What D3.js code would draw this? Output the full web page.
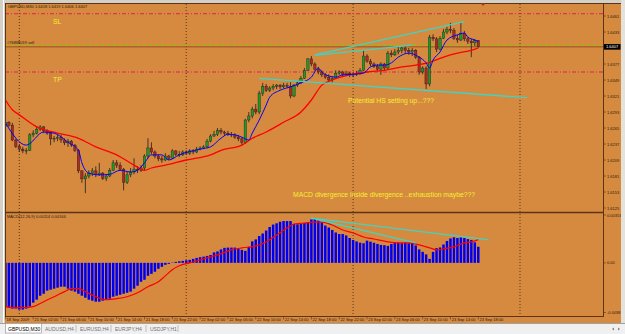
<!DOCTYPE html>
<html>
<head>
<meta charset="utf-8">
<script src="https://cdn.jsdelivr.net/npm/d3@7"></script>
<style>
html, body { margin: 0; padding: 0; background: #d4d0c8; }
svg { display: block; font-family: "Liberation Sans", Arial, sans-serif; }
</style>
</head>
<body>
<script>
// GBPUSD M30 candles, bar 0 = 18 Sep 2009 22:00, bar 4 = 21 Sep 00:00
const open = [1.6268,1.6275,1.6270,1.6244,1.6233,1.6228,1.6225,1.6226,1.6253,1.6256,
  1.6263,1.6267,1.6260,1.6256,1.6246,1.6247,1.6249,1.6244,1.6239,1.6242,
  1.6235,1.6226,1.6190,1.6176,1.6181,1.6186,1.6190,1.6184,1.6186,1.6177,
  1.6181,1.6191,1.6204,1.6200,1.6193,1.6170,1.6183,1.6188,1.6193,1.6191,
  1.6195,1.6216,1.6230,1.6223,1.6216,1.6211,1.6209,1.6216,1.6212,1.6225,
  1.6219,1.6218,1.6223,1.6221,1.6225,1.6223,1.6228,1.6230,1.6232,1.6242,
  1.6251,1.6254,1.6261,1.6258,1.6256,1.6254,1.6253,1.6249,1.6246,1.6240,
  1.6279,1.6286,1.6298,1.6293,1.6326,1.6338,1.6331,1.6335,1.6338,1.6340,
  1.6337,1.6340,1.6338,1.6321,1.6340,1.6344,1.6352,1.6366,1.6386,1.6377,
  1.6368,1.6363,1.6358,1.6354,1.6349,1.6352,1.6361,1.6363,1.6359,1.6361,
  1.6358,1.6359,1.6361,1.6366,1.6391,1.6382,1.6377,1.6373,1.6368,1.6377,
  1.6370,1.6396,1.6393,1.6398,1.6401,1.6405,1.6401,1.6398,1.6401,1.6389,
  1.6363,1.6370,1.6342,1.6424,1.6421,1.6403,1.6422,1.6433,1.6438,1.6436,
  1.6422,1.6419,1.6431,1.6421,1.6417,1.6414,1.6418];
const high = [1.6279,1.6277,1.6274,1.6246,1.6237,1.6232,1.6230,1.6256,1.6261,1.6268,
  1.6270,1.6268,1.6263,1.6258,1.6251,1.6254,1.6253,1.6247,1.6246,1.6244,
  1.6237,1.6228,1.6191,1.6186,1.6191,1.6195,1.6198,1.6204,1.6188,1.6184,
  1.6195,1.6209,1.6209,1.6205,1.6195,1.6188,1.6195,1.6212,1.6198,1.6200,
  1.6219,1.6247,1.6240,1.6226,1.6219,1.6216,1.6221,1.6218,1.6228,1.6226,
  1.6225,1.6226,1.6226,1.6228,1.6228,1.6232,1.6233,1.6235,1.6246,1.6254,
  1.6260,1.6265,1.6265,1.6260,1.6260,1.6258,1.6256,1.6253,1.6249,1.6281,
  1.6293,1.6302,1.6307,1.6330,1.6344,1.6342,1.6338,1.6342,1.6342,1.6342,
  1.6344,1.6344,1.6345,1.6342,1.6347,1.6356,1.6370,1.6387,1.6391,1.6380,
  1.6372,1.6366,1.6361,1.6359,1.6356,1.6366,1.6366,1.6365,1.6365,1.6363,
  1.6363,1.6365,1.6370,1.6401,1.6394,1.6386,1.6380,1.6377,1.6380,1.6379,
  1.6400,1.6401,1.6403,1.6407,1.6408,1.6408,1.6405,1.6405,1.6403,1.6391,
  1.6373,1.6373,1.6428,1.6429,1.6424,1.6426,1.6438,1.6442,1.6449,1.6440,
  1.6428,1.6450,1.6435,1.6424,1.6421,1.6421,1.6419];
const low = [1.6265,1.6267,1.6242,1.6230,1.6223,1.6221,1.6219,1.6225,1.6249,1.6254,
  1.6260,1.6256,1.6253,1.6235,1.6240,1.6242,1.6239,1.6235,1.6232,1.6232,
  1.6223,1.6186,1.6169,1.6151,1.6177,1.6181,1.6179,1.6181,1.6174,1.6172,
  1.6179,1.6190,1.6195,1.6190,1.6156,1.6167,1.6179,1.6184,1.6186,1.6188,
  1.6191,1.6212,1.6219,1.6212,1.6207,1.6204,1.6207,1.6209,1.6211,1.6216,
  1.6214,1.6216,1.6218,1.6218,1.6219,1.6221,1.6226,1.6228,1.6230,1.6240,
  1.6249,1.6251,1.6254,1.6251,1.6251,1.6249,1.6246,1.6242,1.6235,1.6237,
  1.6275,1.6282,1.6289,1.6289,1.6321,1.6328,1.6328,1.6331,1.6333,1.6333,
  1.6335,1.6335,1.6317,1.6319,1.6337,1.6342,1.6351,1.6365,1.6373,1.6365,
  1.6359,1.6354,1.6351,1.6347,1.6345,1.6351,1.6358,1.6356,1.6356,1.6354,
  1.6354,1.6356,1.6358,1.6365,1.6379,1.6373,1.6370,1.6365,1.6358,1.6366,
  1.6368,1.6389,1.6391,1.6394,1.6396,1.6396,1.6393,1.6391,1.6386,1.6358,
  1.6359,1.6333,1.6338,1.6417,1.6398,1.6401,1.6421,1.6429,1.6431,1.6419,
  1.6414,1.6417,1.6417,1.6412,1.6389,1.6408,1.6406];
const close = [1.6275,1.6270,1.6244,1.6233,1.6228,1.6225,1.6226,1.6253,1.6256,1.6263,
  1.6267,1.6260,1.6256,1.6246,1.6247,1.6249,1.6244,1.6239,1.6242,1.6235,
  1.6226,1.6190,1.6176,1.6181,1.6186,1.6190,1.6184,1.6186,1.6177,1.6181,
  1.6191,1.6204,1.6200,1.6193,1.6170,1.6183,1.6188,1.6193,1.6191,1.6195,
  1.6216,1.6230,1.6223,1.6216,1.6211,1.6209,1.6216,1.6212,1.6225,1.6219,
  1.6218,1.6223,1.6221,1.6225,1.6223,1.6228,1.6230,1.6232,1.6242,1.6251,
  1.6254,1.6261,1.6258,1.6256,1.6254,1.6253,1.6249,1.6246,1.6240,1.6279,
  1.6286,1.6298,1.6293,1.6326,1.6338,1.6331,1.6335,1.6338,1.6340,1.6337,
  1.6340,1.6338,1.6321,1.6340,1.6344,1.6352,1.6366,1.6386,1.6377,1.6368,
  1.6363,1.6358,1.6354,1.6349,1.6352,1.6361,1.6363,1.6359,1.6361,1.6358,
  1.6359,1.6361,1.6366,1.6391,1.6382,1.6377,1.6373,1.6368,1.6377,1.6370,
  1.6396,1.6393,1.6398,1.6401,1.6405,1.6401,1.6398,1.6401,1.6389,1.6363,
  1.6370,1.6342,1.6424,1.6421,1.6403,1.6422,1.6433,1.6438,1.6436,1.6422,
  1.6419,1.6431,1.6421,1.6417,1.6414,1.6418,1.6407];

// moving averages: [bar, price]
const maFast = [[0,1.6274],[6,1.6235],[11,1.6258],[14,1.6256],[18,1.6240],[21,1.6226],[22,1.6204],
  [24,1.6186],[27,1.6183],[30,1.6184],[33,1.6191],[36,1.6188],[38,1.6191],[40,1.6204],[42,1.6218],
  [45,1.6218],[47,1.6209],[50,1.6218],[56,1.6228],[59,1.6232],[62,1.6247],[64,1.6254],[66,1.6253],
  [68,1.6249],[70,1.6244],[71,1.6256],[73,1.6279],[75,1.6305],[76,1.6319],[79,1.6331],[82,1.6337],
  [85,1.6344],[88,1.6354],[90,1.6370],[91,1.6363],[93,1.6356],[95,1.6354],[97,1.6358],[100,1.6359],
  [103,1.6361],[105,1.6372],[107,1.6375],[109,1.6375],[111,1.6379],[113,1.6389],[116,1.6396],
  [119,1.6389],[121,1.6379],[122,1.6370],[123,1.6384],[125,1.6398],[127,1.6419],[130,1.6428],
  [132,1.6431],[133,1.6424],[135,1.6419],[136,1.6416]];
const maSlow = [[0,1.6314],[2,1.6297],[4,1.6288],[9,1.6267],[15,1.6256],[21,1.6247],[26,1.6232],
  [32,1.6218],[37,1.6200],[40,1.6191],[42,1.6195],[46,1.6200],[52,1.6209],[59,1.6218],[62,1.6226],
  [68,1.6235],[71,1.6247],[75,1.6258],[80,1.6275],[85,1.6293],[88,1.6314],[91,1.6340],[94,1.6349],
  [99,1.6358],[104,1.6363],[109,1.6366],[114,1.6372],[118,1.6375],[122,1.6380],[126,1.6389],
  [130,1.6396],[134,1.6401],[136,1.6405]];

// MACD(12,26,9) histogram per bar and signal line [bar, value]
const macd = [-0.00310,-0.00317,-0.00324,-0.00324,-0.00331,-0.00331,-0.00324,-0.00310,-0.00282,-0.00261,
  -0.00233,-0.00219,-0.00197,-0.00190,-0.00183,-0.00176,-0.00169,-0.00169,-0.00183,-0.00197,
  -0.00204,-0.00219,-0.00233,-0.00247,-0.00261,-0.00268,-0.00275,-0.00275,-0.00268,-0.00261,
  -0.00254,-0.00240,-0.00233,-0.00226,-0.00219,-0.00212,-0.00204,-0.00183,-0.00162,-0.00134,
  -0.00120,-0.00092,-0.00078,-0.00063,-0.00042,-0.00028,-0.00014,-0.00007,0.00002,0.00007,
  0.00011,0.00014,0.00018,0.00021,0.00028,0.00035,0.00040,0.00044,0.00049,0.00056,
  0.00074,0.00081,0.00095,0.00106,0.00108,0.00108,0.00108,0.00102,0.00092,0.00085,
  0.00113,0.00152,0.00166,0.00190,0.00208,0.00229,0.00254,0.00271,0.00280,0.00291,
  0.00296,0.00296,0.00296,0.00275,0.00273,0.00275,0.00282,0.00286,0.00307,0.00314,
  0.00300,0.00286,0.00264,0.00250,0.00233,0.00215,0.00204,0.00204,0.00194,0.00176,
  0.00162,0.00152,0.00143,0.00139,0.00157,0.00150,0.00142,0.00134,0.00127,0.00125,
  0.00120,0.00134,0.00141,0.00143,0.00139,0.00143,0.00139,0.00143,0.00123,0.00095,
  0.00078,0.00060,0.00028,0.00078,0.00104,0.00109,0.00130,0.00155,0.00173,0.00181,
  0.00176,0.00180,0.00176,0.00168,0.00162,0.00145,0.00114];
const signal = [[0,-0.00310],[2,-0.00317],[5,-0.00317],[8,-0.00310],[11,-0.00275],[14,-0.00240],
  [17,-0.00204],[19,-0.00183],[21,-0.00183],[23,-0.00204],[26,-0.00240],[29,-0.00261],[32,-0.00254],
  [35,-0.00240],[38,-0.00212],[41,-0.00169],[44,-0.00134],[46,-0.00092],[48,-0.00049],[50,-0.00021],
  [53,0.00000],[56,0.00021],[59,0.00042],[61,0.00056],[65,0.00092],[68,0.00106],[72,0.00120],
  [75,0.00148],[78,0.00197],[81,0.00247],[83,0.00275],[86,0.00282],[89,0.00289],[91,0.00289],
  [94,0.00268],[97,0.00233],[100,0.00212],[103,0.00183],[106,0.00169],[110,0.00148],[113,0.00141],
  [116,0.00141],[119,0.00127],[122,0.00106],[124,0.00092],[126,0.00099],[129,0.00113],[132,0.00141],
  [134,0.00148],[136,0.00164]];

// axes
const priceTicks = [1.6461,1.6433,1.6377,1.6349,1.6321,1.6293,1.6265,1.6237,1.6209,1.6181,1.6153,1.6125];
const macdTicks = [[0.00353,'0.00353'],[0,'0.00'],[-0.0038,'-0.0038']];
const timeTicks = [[0,'18 Sep 2009'],[8,'21 Sep 02:00'],[16,'21 Sep 06:00'],[24,'21 Sep 10:00'],
  [32,'21 Sep 14:00'],[40,'21 Sep 18:00'],[48,'21 Sep 22:00'],[56,'22 Sep 02:00'],[64,'22 Sep 06:00'],
  [72,'22 Sep 10:00'],[80,'22 Sep 14:00'],[88,'22 Sep 18:00'],[96,'22 Sep 22:00'],[104,'23 Sep 02:00'],
  [112,'23 Sep 06:00'],[120,'23 Sep 10:00'],[128,'23 Sep 14:00'],[136,'23 Sep 18:00']];
const daySeparators = [4, 52, 100, 148];
const tabs = ['GBPUSD,M30','AUDUSD,H4','EURUSD,H4','EURJPY,H4','USDJPY,H1'];

// order levels
const slLevel = 1.6465, tpLevel = 1.6363, openLevel = 1.6410, bidLevel = 1.6407;

// hand drawn trend lines [bar, value]
const trendMain = [[[89,1.6393],[132,1.6451]], [[89,1.6392],[117,1.6410]], [[73,1.6352],[150,1.6318]]];
const trendMacd = [[[88,0.00317],[139,0.00162]], [[88,0.00317],[118,0.00141]]];

const W = 625, H = 334;
const bg = '#d68a40', frame = '#5a3414', txt = '#2a1808', note = '#f4ee30';

const svg = d3.select('body').append('svg').attr('width', W).attr('height', H);

const x = d3.scaleLinear().domain([0, 148]).range([5.4, 520]);
const yP = d3.scaleLinear().domain([1.6118, 1.648375]).range([212, 3]);
const yM = d3.scaleLinear().domain([-0.0038, 0.00353]).range([316.5, 213]);

svg.append('rect').attr('x', 0).attr('y', 0).attr('width', W).attr('height', H).attr('fill', '#d4d0c8');
svg.append('line').attr('x1', 3.5).attr('x2', 3.5).attr('y1', 0).attr('y2', 323).attr('stroke', '#ffffff');
svg.append('rect').attr('x', 5).attr('y', 3).attr('width', 616).attr('height', 320).attr('fill', bg);

const defs = svg.append('defs');
defs.append('clipPath').attr('id', 'cm').append('rect').attr('x', 5).attr('y', 3.5).attr('width', 598).attr('height', 208.5);
defs.append('clipPath').attr('id', 'cd').append('rect').attr('x', 5).attr('y', 213).attr('width', 598).attr('height', 103.5);

// day separators
svg.append('g').selectAll('line').data(daySeparators).join('line')
  .attr('x1', d => x(d)).attr('x2', d => x(d)).attr('y1', 4).attr('y2', 316)
  .attr('stroke', '#5a3414').attr('stroke-dasharray', '1,2');

const main = svg.append('g').attr('clip-path', 'url(#cm)');

// SL / TP / order / bid lines
[slLevel, tpLevel].forEach(v => {
  main.append('line').attr('x1', 5).attr('x2', 603).attr('y1', yP(v)).attr('y2', yP(v))
    .attr('stroke', '#e0205a').attr('stroke-dasharray', '4,2,1,2');
});
main.append('line').attr('x1', 5).attr('x2', 603).attr('y1', yP(bidLevel)).attr('y2', yP(bidLevel))
  .attr('stroke', '#9a5020');
main.append('line').attr('x1', 5).attr('x2', 603).attr('y1', yP(openLevel)).attr('y2', yP(openLevel))
  .attr('stroke', '#7ad000').attr('stroke-dasharray', '3,3');

// candles
const bars = d3.range(close.length);
main.append('g').selectAll('line').data(bars).join('line')
  .attr('x1', i => x(i)).attr('x2', i => x(i))
  .attr('y1', i => yP(high[i])).attr('y2', i => yP(low[i]))
  .attr('stroke', '#1e1e1e').attr('stroke-width', 0.8);
main.append('g').selectAll('rect').data(bars).join('rect')
  .attr('x', i => x(i) - 1.2).attr('width', 2.4)
  .attr('y', i => yP(Math.max(open[i], close[i])))
  .attr('height', i => Math.max(0.8, Math.abs(yP(open[i]) - yP(close[i]))))
  .attr('fill', i => close[i] >= open[i] ? '#1f9a2a' : '#b02a20')
  .attr('stroke', '#1e1e1e').attr('stroke-width', 0.4);

const lineP = d3.line().x(d => x(d[0])).y(d => yP(d[1])).curve(d3.curveMonotoneX);
main.append('path').attr('d', lineP(maSlow)).attr('fill', 'none').attr('stroke', '#ff0000').attr('stroke-width', 1.3);
main.append('path').attr('d', lineP(maFast)).attr('fill', 'none').attr('stroke', '#0000ff').attr('stroke-width', 1);

const tline = d3.line().x(d => x(d[0])).y(d => yP(d[1]));
trendMain.forEach(t => {
  main.append('path').attr('d', tline(t)).attr('stroke', '#40d4c4').attr('stroke-width', 1.3).attr('fill', 'none');
});

// MACD window
const sub = svg.append('g').attr('clip-path', 'url(#cd)');
sub.append('g').selectAll('rect').data(bars).join('rect')
  .attr('x', i => x(i) - 1.25).attr('width', 2.5)
  .attr('y', i => Math.min(yM(0), yM(macd[i])))
  .attr('height', i => Math.abs(yM(macd[i]) - yM(0)))
  .attr('fill', '#0000f0');
const lineM = d3.line().x(d => x(d[0])).y(d => yM(d[1])).curve(d3.curveMonotoneX);
sub.append('path').attr('d', lineM(signal)).attr('fill', 'none').attr('stroke', '#ff0000').attr('stroke-width', 1.2);
const tlineM = d3.line().x(d => x(d[0])).y(d => yM(d[1]));
trendMacd.forEach(t => {
  sub.append('path').attr('d', tlineM(t)).attr('stroke', '#40d4c4').attr('stroke-width', 1.3).attr('fill', 'none');
});

// frames
svg.append('line').attr('x1', 5).attr('x2', 621).attr('y1', 3.5).attr('y2', 3.5).attr('stroke', frame);
svg.append('line').attr('x1', 5.5).attr('x2', 5.5).attr('y1', 3).attr('y2', 317).attr('stroke', frame);
svg.append('line').attr('x1', 603.5).attr('x2', 603.5).attr('y1', 3).attr('y2', 317).attr('stroke', frame);
svg.append('line').attr('x1', 5).attr('x2', 604).attr('y1', 212.5).attr('y2', 212.5).attr('stroke', frame).attr('stroke-width', 1.5);
svg.append('line').attr('x1', 5).attr('x2', 604).attr('y1', 316.5).attr('y2', 316.5).attr('stroke', frame);

// shift marker
svg.append('path').attr('d', 'M481,3.5 L485,3.5 L483,6 Z').attr('fill', '#b03020');

// price axis
const ax = svg.append('g').attr('font-size', 4).attr('fill', txt);
priceTicks.forEach(v => {
  ax.append('line').attr('x1', 603.5).attr('x2', 606).attr('y1', yP(v)).attr('y2', yP(v)).attr('stroke', frame).attr('stroke-width', 0.6);
  ax.append('text').attr('x', 607).attr('y', yP(v) + 1.5).text(v.toFixed(4));
});
ax.append('rect').attr('x', 604).attr('y', yP(bidLevel) - 2.8).attr('width', 16.5).attr('height', 5.6).attr('fill', '#000');
ax.append('text').attr('x', 606).attr('y', yP(bidLevel) + 1.5).attr('fill', '#fff').text(bidLevel.toFixed(4));
macdTicks.forEach(([v, s], k) => {
  const yy = yM(v) + (k === 0 ? 3.5 : k === 2 ? -2.5 : 1.5);
  ax.append('line').attr('x1', 603.5).attr('x2', 606).attr('y1', yy - 1.5).attr('y2', yy - 1.5).attr('stroke', frame).attr('stroke-width', 0.6);
  ax.append('text').attr('x', 607).attr('y', yy).text(s);
});

// time axis
timeTicks.forEach(([i, s]) => {
  ax.append('line').attr('x1', x(i)).attr('x2', x(i)).attr('y1', 316.5).attr('y2', 319.5).attr('stroke', frame).attr('stroke-width', 0.6);
  ax.append('text').attr('x', x(i) + 1.2).attr('y', 321.3).text(s);
});

// labels
ax.append('text').attr('x', 8).attr('y', 7.8).text('GBPUSD,M30  1.6418 1.6419 1.6406 1.6407');
ax.append('text').attr('x', 7).attr('y', 44.3).text('#76888019 sell');
ax.append('text').attr('x', 7).attr('y', 218).text('MACD(12,26,9) 0.00114 0.00164');

const notes = svg.append('g').attr('fill', note).attr('font-size', 6.8);
notes.append('text').attr('x', 53).attr('y', yP(slLevel) + 10.5).text('SL');
notes.append('text').attr('x', 53).attr('y', yP(tpLevel) + 9.5).text('TP');
notes.append('text').attr('x', 348).attr('y', 102.5).text('Potential HS setting up...???');
notes.append('text').attr('x', 293).attr('y', 196.5).text('MACD divergence inside divergence ..exhaustion maybe???');

// tab bar
svg.append('rect').attr('x', 0).attr('y', 323).attr('width', W).attr('height', 11).attr('fill', '#f0f0f0');
svg.append('line').attr('x1', 0).attr('x2', W).attr('y1', 323.5).attr('y2', 323.5).attr('stroke', '#a0a0a0');
const tabX = [5, 42, 77, 112, 147, 179];
svg.append('rect').attr('x', 5.5).attr('y', 323.5).attr('width', 36).attr('height', 9.5)
  .attr('fill', '#fff').attr('stroke', '#909090').attr('stroke-width', 0.6);
tabs.forEach((t, k) => {
  svg.append('text').attr('x', tabX[k] + 3).attr('y', 330.5).attr('font-size', 5)
    .attr('fill', k === 0 ? '#000' : '#707070').text(t);
  if (k > 0) svg.append('line').attr('x1', tabX[k + 1] - 1).attr('x2', tabX[k + 1] - 1).attr('y1', 325).attr('y2', 332)
    .attr('stroke', '#a0a0a0').attr('stroke-width', 0.6);
});
svg.append('path').attr('d', 'M612,329 L614,327.5 L614,330.5 Z M620,329 L618,327.5 L618,330.5 Z').attr('fill', '#808080');
svg.append('rect').attr('x', 621).attr('y', 0).attr('width', 4).attr('height', 323).attr('fill', '#e4e2dc');
</script>
</body>
</html>
